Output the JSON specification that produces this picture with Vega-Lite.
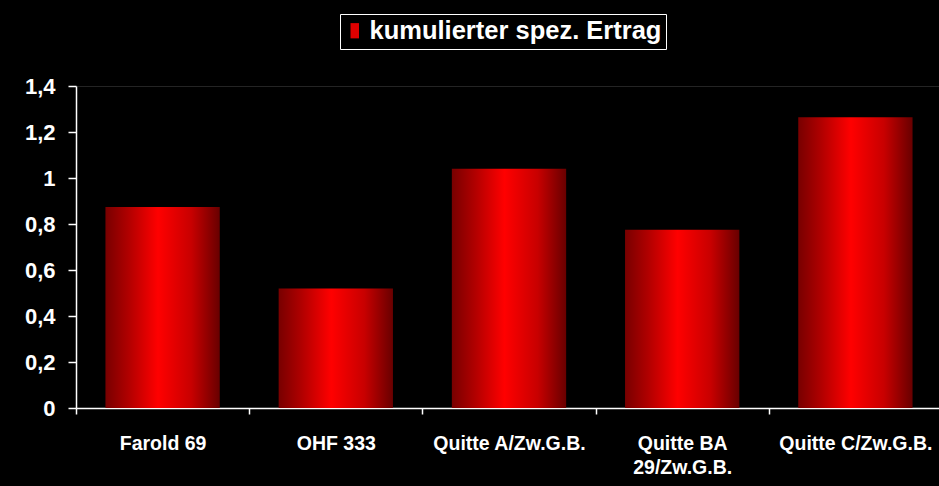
{
  "$schema": "https://vega.github.io/schema/vega-lite/v6.json",
  "autosize": "none",
  "width": 866,
  "height": 322,
  "padding": {"left": 76, "top": 86, "right": 0, "bottom": 78},
  "background": "#000000",
  "config": {
    "font": "Liberation Sans",
    "view": {"stroke": "#242424", "strokeWidth": 1},
    "axis": {
      "domainColor": "#ffffff",
      "tickColor": "#ffffff",
      "labelColor": "#ffffff",
      "labelFont": "Liberation Sans",
      "labelFontWeight": "bold",
      "domainWidth": 1.5,
      "tickWidth": 1.5,
      "grid": false,
      "title": null
    }
  },
  "data": {
    "values": [
      {"sorte": "Farold 69", "ertrag": 0.874, "serie": "kumulierter spez. Ertrag"},
      {"sorte": "OHF 333", "ertrag": 0.52, "serie": "kumulierter spez. Ertrag"},
      {"sorte": "Quitte A/Zw.G.B.", "ertrag": 1.04, "serie": "kumulierter spez. Ertrag"},
      {"sorte": "Quitte BA 29/Zw.G.B.", "ertrag": 0.775, "serie": "kumulierter spez. Ertrag"},
      {"sorte": "Quitte C/Zw.G.B.", "ertrag": 1.264, "serie": "kumulierter spez. Ertrag"}
    ]
  },
  "encoding": {
    "x": {
      "field": "sorte",
      "type": "nominal",
      "sort": null,
      "scale": {"paddingInner": 0, "paddingOuter": 0},
      "axis": {
        "labelAngle": 0,
        "labelFontSize": 19.5,
        "tickBand": "extent",
        "tickSize": 6,
        "labelPadding": 35,
        "labelBaseline": "alphabetic",
        "labelLineHeight": 24,
        "labelLimit": 200,
        "labelExpr": "datum.label == 'Quitte BA 29/Zw.G.B.' ? ['Quitte BA', '29/Zw.G.B.'] : datum.label"
      }
    },
    "y": {
      "field": "ertrag",
      "type": "quantitative",
      "scale": {"domain": [0, 1.4], "nice": false},
      "axis": {
        "values": [0, 0.2, 0.4, 0.6, 0.8, 1, 1.2, 1.4],
        "labelExpr": "replace(format(datum.value, ''), '.', ',')",
        "labelFontSize": 22,
        "tickSize": 8,
        "labelPadding": 13
      }
    }
  },
  "layer": [
    {
      "mark": {
        "type": "bar",
        "width": {"band": 0.66},
        "color": {"gradient": "linear", "x1": 0, "y1": 0, "x2": 1, "y2": 0, "stops": [
          {"offset": 0, "color": "#780000"},
          {"offset": 0.2, "color": "#b00000"},
          {"offset": 0.46, "color": "#ff0000"},
          {"offset": 0.75, "color": "#c80000"},
          {"offset": 1, "color": "#680000"}
        ]}
      }
    },
    {
      "mark": {"type": "bar", "opacity": 0, "width": {"band": 0.66}},
      "encoding": {
        "color": {
          "field": "serie",
          "type": "nominal",
          "scale": {"domain": ["kumulierter spez. Ertrag"], "range": ["#e00000"]},
          "legend": {
            "orient": "none",
            "legendX": 264,
            "legendY": -72,
            "title": null,
            "strokeColor": "#ffffff",
            "fillColor": "#000000",
            "padding": 4,
            "labelColor": "#ffffff",
            "labelFont": "Liberation Sans",
            "labelFontWeight": "bold",
            "labelFontSize": 25.5,
            "labelLimit": 400,
            "labelExpr": "datum.label + ' '",
            "symbolType": "M-1,-1.8L1,-1.8L1,1.8L-1,1.8Z",
            "symbolSize": 72,
            "symbolOffset": -2,
            "symbolOpacity": 1,
            "symbolStrokeWidth": 0,
            "labelOffset": 2,
            "encode": {
              "symbols": {
                "update": {
                  "fill": {"value": {"gradient": "linear", "x1": 0, "y1": 0, "x2": 1, "y2": 0, "stops": [
                    {"offset": 0, "color": "#900000"},
                    {"offset": 0.5, "color": "#ff0000"},
                    {"offset": 1, "color": "#800000"}
                  ]}}
                }
              }
            }
          }
        }
      }
    }
  ]
}
